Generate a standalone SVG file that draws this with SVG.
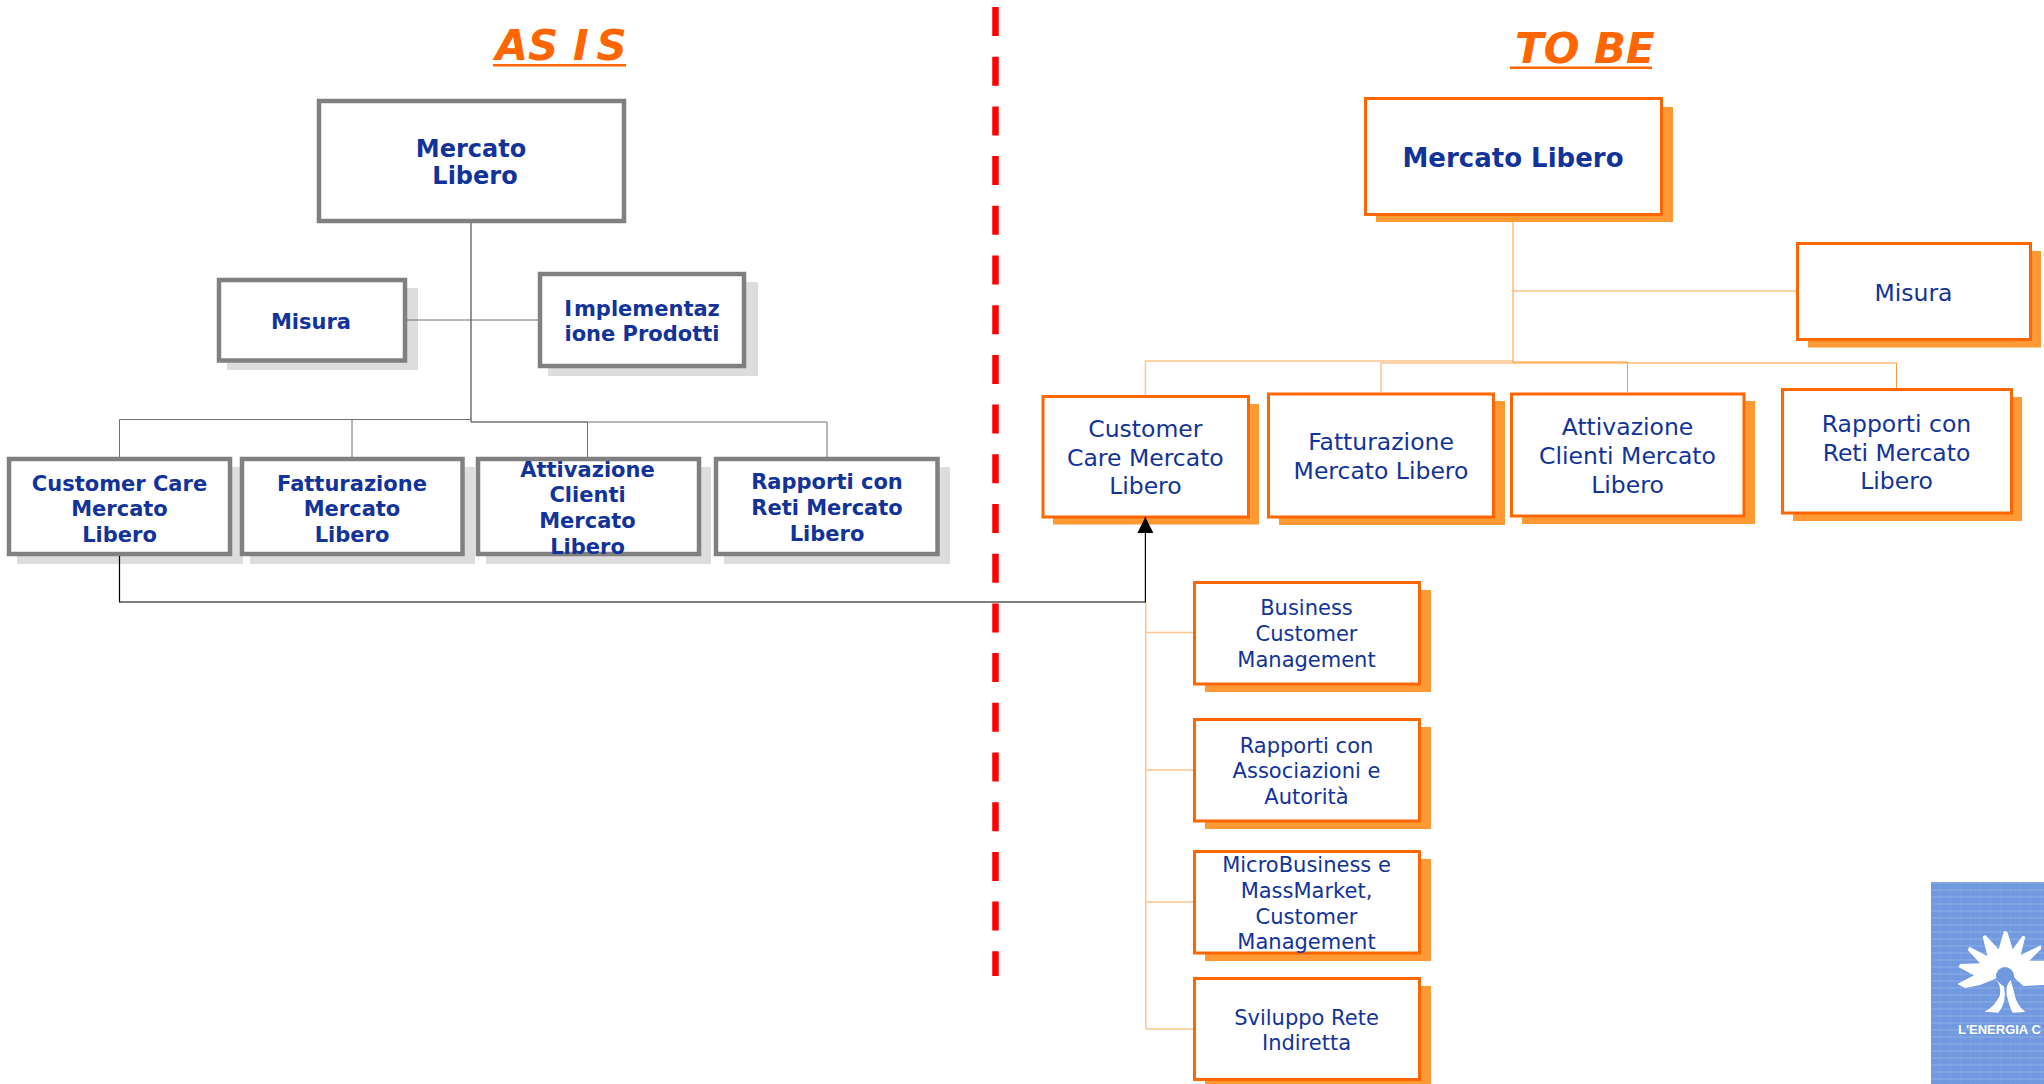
<svg xmlns="http://www.w3.org/2000/svg" width="2044" height="1084" viewBox="0 0 2044 1084">
<style>
text{font-family:"DejaVu Sans","Liberation Sans",sans-serif;fill:#123399;text-anchor:middle}
.b{font-weight:bold}
.t{font-weight:bold;font-style:oblique;font-size:42px;fill:#ff6600;text-anchor:start}
.g{fill:#fff;stroke:#808080;stroke-width:4.500}
.gs{fill:#dddddd}
.o{fill:#fff;stroke:#ff6600;stroke-width:3}
.os{fill:#ff9933}
.f21{font-size:21px}.f24{font-size:24px}.f26{font-size:26px}.f23{font-size:23.500px}
.cg{fill:none;stroke:#707070;stroke-width:1}
.cg2{fill:none;stroke:#707070;stroke-width:1.500}
.cl{fill:none;stroke:#ffc58f;stroke-width:1.500}
.cm{fill:none;stroke:#ff9933;stroke-width:1}
</style>
<defs>
<marker id="arrow" viewBox="0 0 16 16" refX="16" refY="8" markerWidth="16" markerHeight="16" markerUnits="userSpaceOnUse" orient="auto"><path d="M0 0L16 8L0 16Z" fill="#000"/></marker>
<pattern id="stripes" width="10" height="7" patternUnits="userSpaceOnUse"><rect width="10" height="2" fill="#fff" opacity=".1"/><rect width="1" height="7" fill="#fff" opacity=".05"/></pattern>
</defs>

<g id="divider"><line x1="995.500" y1="7" x2="995.500" y2="976" stroke="#ff0000" stroke-width="6.500" stroke-dasharray="29 20.700"/></g>

<g id="title-as-is"><text class="t" x="495.500" y="60">AS I<tspan dx="8">S</tspan></text><rect x="493" y="64" width="133" height="2.500" fill="#ff6600"/></g>
<g id="title-to-be"><text class="t" x="1515" y="63">TO BE</text><rect x="1510" y="66.500" width="142" height="2.500" fill="#ff6600"/></g>

<g id="as-is-root"><rect class="g" x="319" y="101" width="305" height="120"/><text class="b f24" x="471" y="157">Mercato</text><text class="b f24" x="475" y="184">Libero</text></g>
<g id="as-is-misura"><rect class="gs" x="227" y="288" width="191" height="82"/><rect class="g" x="219" y="280" width="186" height="80.500"/><text class="b f21" x="311" y="329">Misura</text></g>
<g id="as-is-implementazione"><rect class="gs" x="548" y="282" width="210" height="94"/><rect class="g" x="540" y="274" width="204" height="92"/><text class="b f21" x="642" y="316">I<tspan dx="2">mplementaz</tspan></text><text class="b f21" x="642" y="341">ione Prodotti</text></g>
<g id="as-is-customer"><rect class="gs" x="17" y="467" width="226" height="97"/><rect class="g" x="9" y="459" width="221" height="95"/><text class="b f21" x="119.500" y="491">Customer Care</text><text class="b f21" x="119.500" y="516">Mercato</text><text class="b f21" x="119.500" y="541.500">Libero</text></g>
<g id="as-is-fatturazione"><rect class="gs" x="250" y="467" width="225" height="97"/><rect class="g" x="242" y="459" width="220.500" height="95"/><text class="b f21" x="352" y="491">Fatturazione</text><text class="b f21" x="352" y="516">Mercato</text><text class="b f21" x="352" y="541.500">Libero</text></g>
<g id="as-is-attivazione"><rect class="gs" x="486" y="467" width="225" height="97"/><rect class="g" x="478" y="459" width="221" height="95"/><text class="b f21" x="587.500" y="477">Attivazione</text><text class="b f21" x="587.500" y="502">Clienti</text><text class="b f21" x="587.500" y="528">Mercato</text><text class="b f21" x="587.500" y="554">Libero</text></g>
<g id="as-is-rapporti"><rect class="gs" x="724" y="467" width="226" height="97"/><rect class="g" x="716" y="459" width="221.500" height="95"/><text class="b f21" x="827" y="489">Rapporti con</text><text class="b f21" x="827" y="515">Reti Mercato</text><text class="b f21" x="827" y="541">Libero</text></g>

<g id="to-be-root"><rect class="os" x="1376" y="107" width="297" height="115"/><rect class="o" x="1365.500" y="98.500" width="296" height="116"/><text class="b f26" x="1513" y="167">Mercato Libero</text></g>
<g id="to-be-misura"><rect class="os" x="1808" y="251" width="233" height="96.500"/><rect class="o" x="1797.500" y="243.500" width="233" height="96"/><text class="f23" x="1913.500" y="301">Misura</text></g>
<g id="to-be-customer"><rect class="os" x="1053" y="404" width="206" height="120.500"/><rect class="o" x="1043" y="396.500" width="205.500" height="120.500"/><text class="f23" x="1145.400" y="437">Customer</text><text class="f23" x="1145.400" y="466">Care Mercato</text><text class="f23" x="1145.400" y="494">Libero</text></g>
<g id="to-be-fatturazione"><rect class="os" x="1279" y="401" width="226" height="124"/><rect class="o" x="1268.500" y="394" width="225" height="123"/><text class="f23" x="1381" y="450">Fatturazione</text><text class="f23" x="1381" y="479">Mercato Libero</text></g>
<g id="to-be-attivazione"><rect class="os" x="1522" y="401" width="233" height="123"/><rect class="o" x="1511.500" y="394" width="232.500" height="122"/><text class="f23" x="1627.500" y="435">Attivazione</text><text class="f23" x="1627.500" y="464">Clienti Mercato</text><text class="f23" x="1627.500" y="493">Libero</text></g>
<g id="to-be-rapporti"><rect class="os" x="1793" y="397" width="229" height="124"/><rect class="o" x="1782.500" y="389.500" width="229" height="123.500"/><text class="f23" x="1896.500" y="432">Rapporti con</text><text class="f23" x="1896.500" y="461">Reti Mercato</text><text class="f23" x="1896.500" y="489">Libero</text></g>

<g id="sub-business"><rect class="os" x="1205" y="590" width="226" height="102"/><rect class="o" x="1194.500" y="582.500" width="225" height="101.500"/><text class="f21" x="1306.500" y="614.500">Business</text><text class="f21" x="1306.500" y="640.500">Customer</text><text class="f21" x="1306.500" y="667">Management</text></g>
<g id="sub-rapporti"><rect class="os" x="1205" y="727" width="226" height="102"/><rect class="o" x="1194.500" y="719.500" width="225" height="101.500"/><text class="f21" x="1306.500" y="753">Rapporti con</text><text class="f21" x="1306.500" y="778">Associazioni e</text><text class="f21" x="1306.500" y="804">Autorità</text></g>
<g id="sub-microbusiness"><rect class="os" x="1205" y="859" width="226" height="102"/><rect class="o" x="1194.500" y="851.500" width="225" height="101.500"/><text class="f21" x="1306.500" y="872">MicroBusiness e</text><text class="f21" x="1306.500" y="898">MassMarket,</text><text class="f21" x="1306.500" y="924">Customer</text><text class="f21" x="1306.500" y="949">Management</text></g>
<g id="sub-sviluppo"><rect class="os" x="1205" y="986" width="226" height="98"/><rect class="o" x="1194.500" y="978.500" width="225" height="101"/><text class="f21" x="1306.500" y="1025">Sviluppo Rete</text><text class="f21" x="1306.500" y="1050">Indiretta</text></g>

<g id="connectors">
<path class="cg2" d="M471 223V422"/>
<path class="cg" d="M407 320H538"/>
<path class="cg" d="M119.500 457V419.500H471M352 457V419.500"/>
<path class="cg2" d="M471 422H587.500"/>
<path class="cg" d="M587.500 457V422H827V457"/>
<path class="cl" d="M1513 291H1796M1145.400 395V361H1513"/>
<path class="cm" d="M1513 222V363M1513 362H1627.500V392.500"/>
<path class="cl" d="M1381 392.500V363H1513"/>
<path class="cm" d="M1513 363H1896.500V388"/>
<path class="cl" d="M1145.800 602V1029M1145.800 632.500H1193M1145.800 770H1193M1145.800 902H1193M1145.800 1029H1193"/>
<path d="M119.500 556V602H1145.400V517" fill="none" stroke="#000" stroke-width="1.200" marker-end="url(#arrow)"/>
</g>

<g id="logo">
<rect x="1931" y="882" width="113" height="202" fill="#7099e0"/>
<rect x="1931" y="882" width="113" height="202" fill="url(#stripes)"/>
<g transform="translate(1900 870) scale(.33333)">
<polygon fill="#fff" points="172,342 222,316 176,292 180,282 240,280 203,240 208,230 262,258 248,200 256,195 296,238 312,182 322,185 338,238 368,197 376,200 362,255 422,226 424,236 388,272 432,272 432,345 370,348 345,325 330,300 290,325 240,345 195,354"/>
<circle cx="315" cy="318" r="27" fill="#7099e0"/>
<path fill="#fff" d="M288 330Q304 345 300 375Q285 410 253 425L295 428Q322 395 312 350Z"/>
<path fill="#fff" d="M332 330Q316 345 320 375Q328 410 338 428L376 426Q348 405 342 365Z"/>
</g>
<text x="1958" y="1034" style="text-anchor:start;font-family:'Liberation Sans',sans-serif;font-weight:bold;font-size:13px;fill:#fff">L'ENERGIA C</text>
</g>
</svg>
